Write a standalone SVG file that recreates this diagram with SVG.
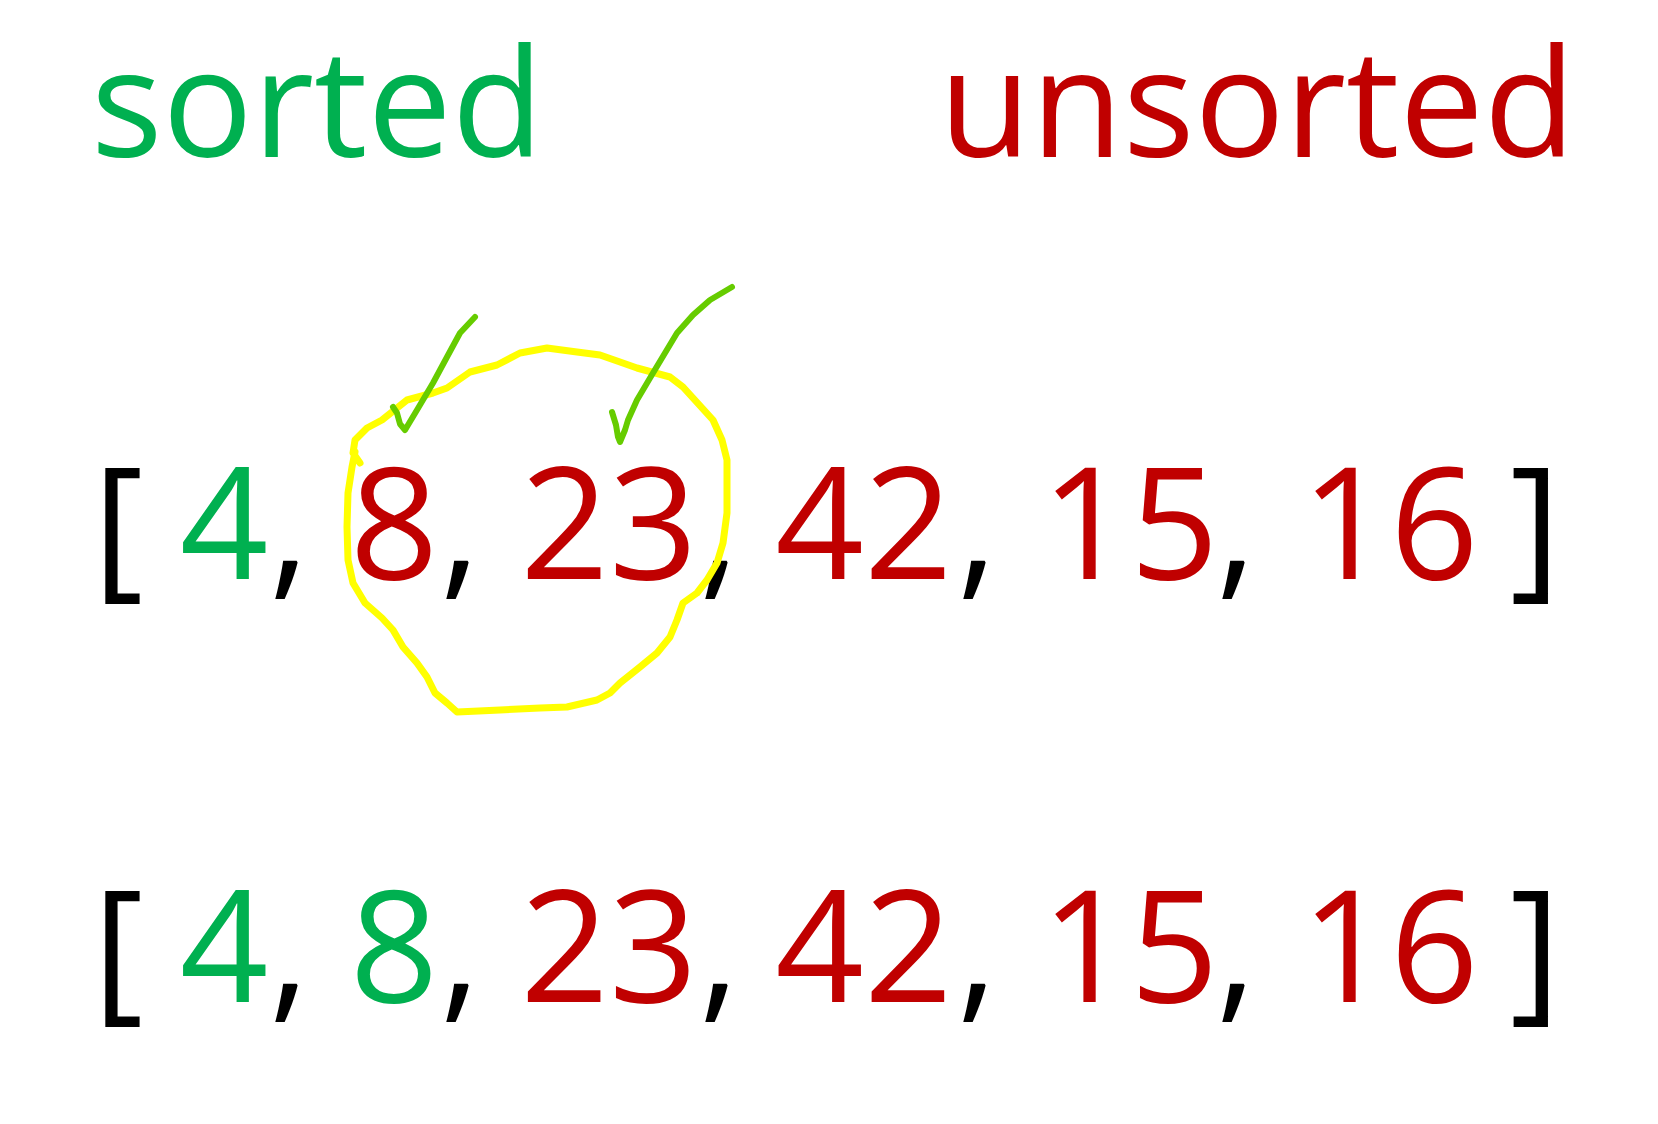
<svg xmlns="http://www.w3.org/2000/svg" width="1658" height="1124" viewBox="0 0 1658 1124">
<style>
text{font-family:"Open Sans","Noto Sans","Liberation Sans",sans-serif;}
.h{font-size:150px;}
.n{font-size:155px;text-anchor:middle;}
.g{fill:#00B050;}
.r{fill:#C00000;}
.k{fill:#000000;}
.loop{fill:none;stroke:#FFFF00;stroke-width:7;stroke-linecap:round;stroke-linejoin:round;}
.chk{fill:none;stroke:#66CC00;stroke-width:6;stroke-linecap:round;stroke-linejoin:round;}
</style>
<rect width="1658" height="1124" fill="#FFFFFF"/>
<g id="headings">
<text class="h g" x="91" y="157">sorted</text>
<text class="h r" x="939" y="157">unsorted</text>
</g>
<g id="row1">
<text class="n k" x="118" y="579">[</text>
<text class="n g" x="224" y="579">4</text>
<text class="n k" x="289" y="579">,</text>
<text class="n r" x="394" y="579">8</text>
<text class="n k" x="460" y="579">,</text>
<text class="n r" x="609" y="579">23</text>
<text class="n k" x="719" y="579">,</text>
<text class="n r" x="864" y="579">42</text>
<text class="n k" x="977" y="579">,</text>
<text class="n r" x="1130" y="579">15</text>
<text class="n k" x="1236" y="579">,</text>
<text class="n r" x="1390" y="579">16</text>
<text class="n k" x="1535" y="579">]</text>
</g>
<g id="row2">
<text class="n k" x="118" y="1002">[</text>
<text class="n g" x="224" y="1002">4</text>
<text class="n k" x="289" y="1002">,</text>
<text class="n g" x="394" y="1002">8</text>
<text class="n k" x="460" y="1002">,</text>
<text class="n r" x="609" y="1002">23</text>
<text class="n k" x="719" y="1002">,</text>
<text class="n r" x="864" y="1002">42</text>
<text class="n k" x="977" y="1002">,</text>
<text class="n r" x="1130" y="1002">15</text>
<text class="n k" x="1236" y="1002">,</text>
<text class="n r" x="1390" y="1002">16</text>
<text class="n k" x="1535" y="1002">]</text>
</g>
<g id="annotations">
<path class="loop" d="M360,463 L353,453 L355,440 L367,428 L382,420 L392,412 L407,400 L433,393 L447,388 L470,372 L497,365 L520,353 L547,348 L577,352 L600,355 L620,362 L637,368 L670,377 L683,387 L713,420 L722,440 L727,460 L727,513 L723,543 L717,563 L707,580 L697,593 L683,603 L677,620 L670,637 L657,653 L640,667 L620,683 L610,693 L597,700 L567,707 L540,708 L500,710 L457,712 L447,703 L435,693 L427,677 L417,663 L403,647 L393,630 L382,618 L365,603 L353,583 L348,560 L347,527 L348,493 L352,467 L355,452"/>
<path class="chk" d="M393,407 L397,413 L400,424 L405,430 L411,420 L417,410 L433,383 L447,357 L460,333 L475,317"/>
<path class="chk" d="M612,412 L616,425 L618,437 L620,442 L625,430 L628,420 L637,400 L653,373 L677,333 L693,315 L710,300 L732,287"/>
</g>
</svg>
